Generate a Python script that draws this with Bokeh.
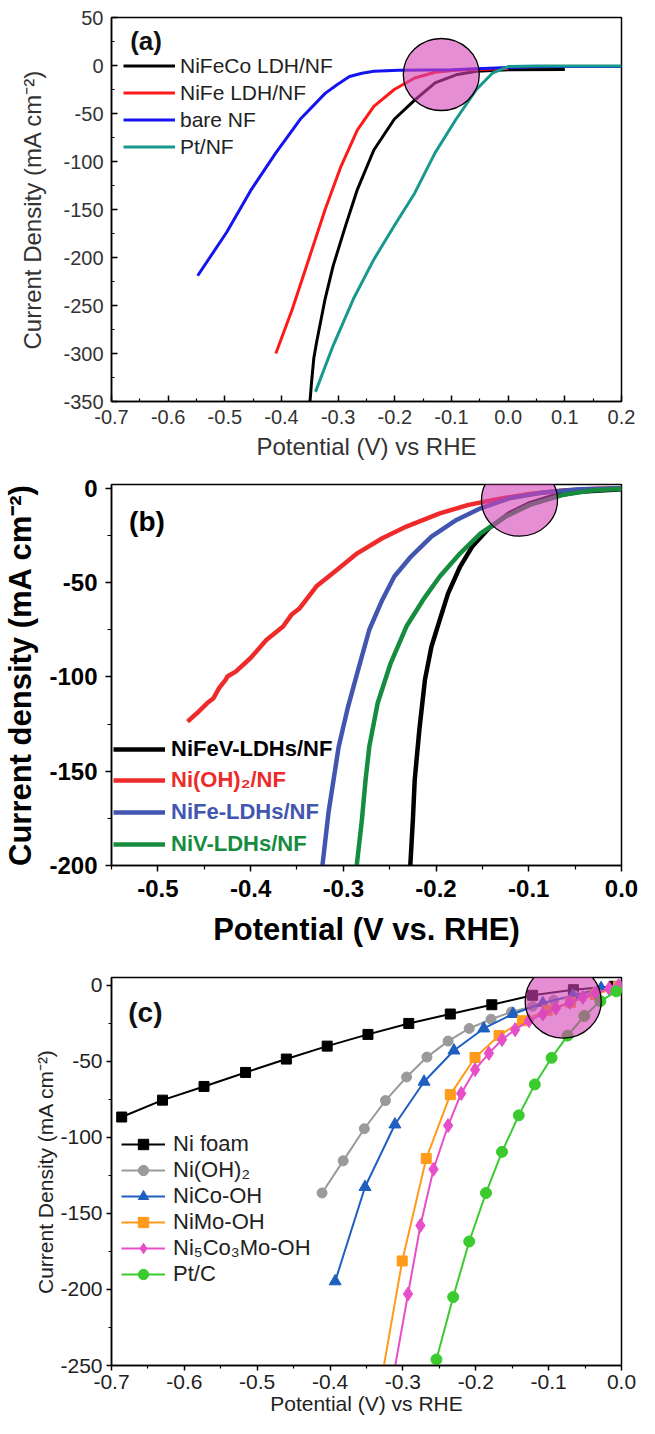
import numpy as np
from bokeh.plotting import figure
from bokeh.models import Range1d, FixedTicker, NumeralTickFormatter, Legend, LegendItem, Label
from bokeh.layouts import column
from bokeh.embed import file_html
from bokeh.resources import INLINE

# ---------------- Panel (a) data ----------------
a_names = ["NiFeCo LDH/NF", "NiFe LDH/NF", "bare NF", "Pt/NF"]
a_nifeco_v = [-0.350, -0.347, -0.343, -0.338, -0.323, -0.309, -0.287, -0.266, -0.237, -0.201, -0.165, -0.129, -0.092, -0.056, 0.0, 0.1]
a_nifeco_j = [-352, -330, -305, -288, -243, -209, -167, -129, -88, -56, -36, -18, -9.7, -6, -4.5, -4.2]
a_nife_v = [-0.410, -0.381, -0.352, -0.323, -0.295, -0.266, -0.237, -0.201, -0.165, -0.129, -0.092, -0.040, 0.0]
a_nife_j = [-300, -254, -202, -150, -105, -67, -42.6, -25, -13, -7, -5, -4, -3]
a_bare_v = [-0.548, -0.497, -0.453, -0.410, -0.367, -0.323, -0.302, -0.280, -0.258, -0.237, -0.193, -0.100, 0.0, 0.05, 0.2]
a_bare_j = [-219, -174, -129, -91, -56, -29, -20, -11.4, -8, -6, -5, -4.5, -2, -1, -1]
a_pt_v = [-0.340, -0.309, -0.273, -0.237, -0.201, -0.165, -0.129, -0.092, -0.056, -0.028, 0.001, 0.05, 0.2]
a_pt_j = [-340, -292, -243, -202, -167, -133, -91, -56, -25, -8, -1, -0.5, -0.5]
a_xticks = [-0.7, -0.6, -0.5, -0.4, -0.3, -0.2, -0.1, 0.0, 0.1, 0.2]
a_yticks = [50, 0, -50, -100, -150, -200, -250, -300, -350]
a_mark_v = [-0.118]
a_mark_j = [-9.4]

# ---------------- Panel (b) data ----------------
b_names = ["NiFeV-LDHs/NF", "Ni(OH)\u2082/NF", "NiFe-LDHs/NF", "NiV-LDHs/NF"]
b_nifev_v = [-0.228, -0.225, -0.223, -0.218, -0.212, -0.205, -0.196, -0.187, -0.174, -0.161, -0.143, -0.121, -0.099, -0.076, -0.045, 0.0]
b_nifev_j = [-202, -176, -154.6, -128, -101.6, -84, -69.8, -55.7, -41.5, -30.9, -21.2, -13.3, -8, -4.4, -1.8, -0.5]
b_nioh_v = [-0.468, -0.458, -0.447, -0.440, -0.434, -0.427, -0.425, -0.416, -0.400, -0.383, -0.365, -0.356, -0.347, -0.329, -0.307, -0.285, -0.258, -0.232, -0.196, -0.165, -0.134, -0.099, -0.063, -0.032, 0.0]
b_nioh_j = [-123.7, -119.3, -114, -111.3, -106, -101.6, -99.8, -97.2, -90, -80.4, -73.3, -67.1, -63.6, -52, -43.3, -34.5, -26.5, -20.3, -13.3, -8.8, -5.8, -3.0, -1.2, -0.4, 0.0]
b_nife_v = [-0.323, -0.316, -0.305, -0.295, -0.285, -0.272, -0.258, -0.245, -0.227, -0.205, -0.178, -0.152, -0.121, -0.085, -0.045, 0.0]
b_nife_j = [-202, -172, -137, -116, -98, -75, -59.2, -46.8, -36.2, -25.6, -16.8, -10.6, -5.3, -2.3, -0.5, 0.0]
b_niv_v = [-0.286, -0.280, -0.276, -0.272, -0.263, -0.249, -0.232, -0.214, -0.196, -0.174, -0.152, -0.125, -0.099, -0.063, -0.032, 0.0]
b_niv_j = [-202, -176, -154.6, -137, -114, -92.8, -73.3, -59.2, -46.8, -34.5, -23.9, -15, -8.8, -3.5, -1.2, -0.3]
b_xticks = [-0.5, -0.4, -0.3, -0.2, -0.1, 0.0]
b_yticks = [0, -50, -100, -150, -200]
b_mark_v = [-0.110]
b_mark_j = [-6.3]

# ---------------- Panel (c) data ----------------
c_names = ["Ni foam", "Ni(OH)\u2082", "NiCo-OH", "NiMo-OH", "Ni\u2085Co\u2083Mo-OH", "Pt/C"]
c_nifoam_v = [-0.686, -0.630, -0.573, -0.516, -0.460, -0.404, -0.348, -0.292, -0.235, -0.178, -0.122, -0.066, -0.010]
c_nifoam_j = [-86.7, -75.6, -66.6, -57.4, -48.6, -40.1, -32.4, -25.2, -19.0, -12.9, -6.7, -3.0, -0.8]
c_nioh_v = [-0.411, -0.382, -0.353, -0.324, -0.295, -0.267, -0.238, -0.209, -0.179, -0.151, -0.122, -0.093, -0.064, -0.035, -0.006]
c_nioh_j = [-136.6, -115.5, -94.4, -75.9, -60.4, -47.3, -36.8, -28.5, -22.4, -17.7, -13.9, -10.0, -7.0, -4.4, -1.8]
c_nico_v = [-0.393, -0.352, -0.311, -0.271, -0.230, -0.189, -0.149, -0.108, -0.067, -0.028]
c_nico_j = [-194.7, -132.7, -91.6, -63.5, -43.0, -28.5, -19.0, -11.8, -6.9, -2.0]
c_nimo_v = [-0.329, -0.301, -0.268, -0.235, -0.201, -0.168, -0.136, -0.102, -0.070, -0.036, -0.004]
c_nimo_j = [-258, -181.3, -114, -72, -47.6, -33.2, -23.4, -16.5, -11.3, -6.2, -1.0]
c_ncm_v = [-0.312, -0.293, -0.276, -0.258, -0.238, -0.220, -0.201, -0.182, -0.164, -0.146, -0.127, -0.108, -0.090, -0.071, -0.053, -0.035, -0.017, -0.004]
c_ncm_j = [-254, -203, -158, -121, -92.3, -71.2, -55.6, -44.8, -35.8, -29.3, -23.4, -19.0, -15.2, -11.3, -8.0, -5.4, -2.3, -0.3]
c_ptc_v = [-0.254, -0.231, -0.209, -0.186, -0.164, -0.141, -0.119, -0.096, -0.074, -0.051, -0.029, -0.007]
c_ptc_j = [-246, -205, -168.5, -136.6, -109.6, -85.6, -65.3, -47.8, -33.2, -20.3, -10.5, -4.1]
c_xticks = [-0.7, -0.6, -0.5, -0.4, -0.3, -0.2, -0.1, 0.0]
c_yticks = [0, -50, -100, -150, -200, -250]
c_mark_v = [-0.080]
c_mark_j = [-10.5]

FONT = "Liberation Sans"
PINK = "#D443B6"


def base_fig(w, h, xr, yr, bl, br, bt, bb):
    p = figure(width=w, height=h, x_range=Range1d(*xr), y_range=Range1d(*yr),
               output_backend="svg", toolbar_location=None,
               min_border_left=bl, min_border_right=br, min_border_top=bt, min_border_bottom=bb)
    p.grid.visible = False
    p.outline_line_color = "black"
    p.outline_line_width = 1.5
    p.outline_line_alpha = 1.0
    p.background_fill_color = "white"
    p.border_fill_color = "white"
    return p


def style_axis(ax, ticks, minor, tick_size, title_size, weight, color,
               tin, tout, label_standoff, title_standoff, fmt):
    ax.ticker = FixedTicker(ticks=ticks, minor_ticks=minor)
    ax.formatter = NumeralTickFormatter(format=fmt)
    ax.axis_line_color = "black"
    ax.axis_line_width = 1.5
    ax.major_tick_line_color = "black"
    ax.major_tick_line_width = 1.5
    ax.minor_tick_line_color = "black"
    ax.minor_tick_line_width = 1.2
    ax.major_tick_in = tin
    ax.major_tick_out = tout
    ax.minor_tick_in = tin // 2 if tin else 0
    ax.minor_tick_out = tout // 2 + 1 if tout else 0
    ax.major_label_text_font = FONT
    ax.major_label_text_font_size = tick_size
    ax.major_label_text_font_style = weight
    ax.major_label_text_color = color
    ax.major_label_standoff = label_standoff
    ax.axis_label_text_font = FONT
    ax.axis_label_text_font_size = title_size
    ax.axis_label_text_font_style = weight
    ax.axis_label_text_color = color
    ax.axis_label_standoff = title_standoff


# ================= Panel (a) =================
p1 = base_fig(639, 470, (-0.7, 0.2), (-350, 50), 100, 18, 17, 69)
p1.xaxis.axis_label = "Potential (V) vs RHE"
p1.yaxis.axis_label = "Current Density (mA cm\u207b\u00b2)"
style_axis(p1.xaxis[0], a_xticks, list(np.arange(-0.65, 0.2, 0.1)), "20px", "24px", "normal", "#333333", 6, 0, 8, 6, "0.0")
style_axis(p1.yaxis[0], a_yticks, list(np.arange(25, -350, -50)), "20px", "24px", "normal", "#333333", 6, 0, 8, 14, "0")

a_cols = ["#000000", "#FF1A1A", "#1414F0", "#19998D"]
a_series = [(a_nifeco_v, a_nifeco_j), (a_nife_v, a_nife_j), (a_bare_v, a_bare_j), (a_pt_v, a_pt_j)]
a_rs = []
for (vv, jj), c in zip(a_series, a_cols):
    a_rs.append(p1.line(vv, jj, line_color=c, line_width=3, line_join="round"))
p1.ellipse(x=a_mark_v, y=a_mark_j, width=76, height=72, width_units="screen", height_units="screen",
           fill_color=PINK, fill_alpha=0.6, line_color="black", line_width=1.3)
leg_a = Legend(items=[LegendItem(label=n, renderers=[r]) for n, r in zip(a_names, a_rs)],
               location=(12, 241), padding=0, margin=0, spacing=0, label_height=27, glyph_height=27,
               glyph_width=52, label_standoff=5, background_fill_alpha=0, border_line_alpha=0,
               label_text_font=FONT, label_text_font_size="21px", label_text_color="#222222")
p1.add_layout(leg_a)
p1.add_layout(Label(x=-0.667, y=26, text="(a)", text_font=FONT, text_font_size="26px",
                    text_font_style="bold", text_baseline="middle", text_color="#111111"))

# ================= Panel (b) =================
p2 = base_fig(639, 490, (-0.55, 0.0), (-200, 2), 109, 12, 14, 95)
p2.xaxis.axis_label = "Potential (V vs. RHE)"
p2.yaxis.axis_label = "Current density (mA cm\u207b\u00b2)"
style_axis(p2.xaxis[0], b_xticks, list(np.arange(-0.55, 0.0, 0.1)), "24px", "31px", "bold", "#000000", 0, 6, 8, 12, "0.0")
style_axis(p2.yaxis[0], b_yticks, list(np.arange(-25, -200, -50)), "24px", "31px", "bold", "#000000", 0, 6, 8, 8, "0")

b_cols = ["#000000", "#EE2A2A", "#4256B0", "#168C3F"]
b_series = [(b_nifev_v, b_nifev_j), (b_nioh_v, b_nioh_j), (b_nife_v, b_nife_j), (b_niv_v, b_niv_j)]
b_rs = []
for (vv, jj), c in zip(b_series, b_cols):
    b_rs.append(p2.line(vv, jj, line_color=c, line_width=4.5, line_join="round"))
p2.ellipse(x=b_mark_v, y=b_mark_j, width=76, height=72, width_units="screen", height_units="screen",
           fill_color=PINK, fill_alpha=0.6, line_color="black", line_width=1.3)
for n, r, c, vy in zip(b_names, b_rs, b_cols, [101, 70, 38, 6]):
    lg = Legend(items=[LegendItem(label=n, renderers=[r])], location=(2, vy), padding=0, margin=0,
                spacing=0, label_height=30, glyph_height=30, glyph_width=52, label_standoff=6,
                background_fill_alpha=0, border_line_alpha=0, label_text_font=FONT,
                label_text_font_size="22px", label_text_font_style="bold", label_text_color=c)
    p2.add_layout(lg)
p2.add_layout(Label(x=-0.531, y=-17.5, text="(b)", text_font=FONT, text_font_size="28px",
                    text_font_style="bold", text_baseline="middle", text_color="#000000"))

# ================= Panel (c) =================
p3 = base_fig(639, 458, (-0.7, 0.0), (-250, 5), 100, 17, 17, 53)
p3.xaxis.axis_label = "Potential (V) vs RHE"
p3.yaxis.axis_label = "Current Density (mA cm\u207b\u00b2)"
style_axis(p3.xaxis[0], c_xticks, list(np.arange(-0.65, 0.0, 0.1)), "21px", "21px", "normal", "#222222", 0, 5, 4, 0, "0.0")
style_axis(p3.yaxis[0], c_yticks, list(np.arange(-25, -250, -50)), "21px", "21px", "normal", "#222222", 0, 5, 4, 0, "0")

c_cols = ["#000000", "#9A9A9A", "#1F5FBF", "#FF9A1A", "#E64FC9", "#3BCB2F"]
c_markers = ["square", "circle", "triangle", "square", "diamond", "circle"]
c_sizes = [10, 10, 12, 10, 14, 11]
c_series = [(c_nifoam_v, c_nifoam_j, 0), (c_nioh_v, c_nioh_j, 0), (c_nico_v, c_nico_j, 0),
            (c_nimo_v, c_nimo_j, 1), (c_ncm_v, c_ncm_j, 1), (c_ptc_v, c_ptc_j, 0)]
c_items = []
for (vv, jj, skip), c, m, s, n in zip(c_series, c_cols, c_markers, c_sizes, c_names):
    rl = p3.line(vv, jj, line_color=c, line_width=2, line_join="round")
    rm = p3.scatter(vv[skip:], jj[skip:], marker=m, size=s, fill_color=c, line_color=c)
    c_items.append(LegendItem(label=n, renderers=[rl, rm]))
p3.ellipse(x=c_mark_v, y=c_mark_j, width=76, height=74, width_units="screen", height_units="screen",
           fill_color=PINK, fill_alpha=0.6, line_color="black", line_width=1.3)
leg_c = Legend(items=c_items, location=(10, 78), padding=0, margin=0, spacing=0, label_height=26,
               glyph_height=26, glyph_width=44, label_standoff=8, background_fill_alpha=0,
               border_line_alpha=0, label_text_font=FONT, label_text_font_size="22px",
               label_text_color="#222222")
p3.add_layout(leg_c)
p3.add_layout(Label(x=-0.677, y=-17.8, text="(c)", text_font=FONT, text_font_size="28px",
                    text_font_style="bold", text_baseline="middle", text_color="#111111"))

layout = column(p1, p2, p3)
open("out.html", "w").write(file_html(layout, INLINE))
